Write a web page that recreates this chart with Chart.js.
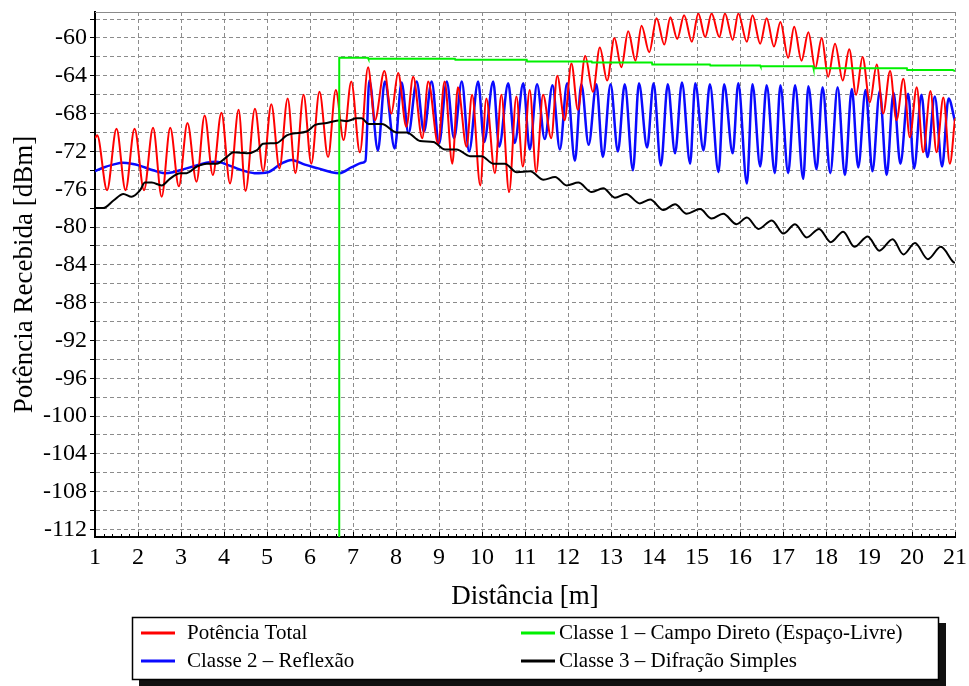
<!DOCTYPE html>
<html><head><meta charset="utf-8">
<script src="https://cdn.jsdelivr.net/npm/chart.js@4.4.0/dist/chart.umd.min.js"></script>
<style>html,body{margin:0;padding:0;background:#fff;}#wrap{width:969px;height:686px;position:relative;}</style>
</head><body><div id="wrap"><canvas id="c" width="969" height="686"></canvas></div>
<script>
// ---- tick values / labels ----
const xTickValues = [1,2,3,4,5,6,7,8,9,10,11,12,13,14,15,16,17,18,19,20,21];
const yGridValues = [-112,-110,-108,-106,-104,-102,-100,-98,-96,-94,-92,-90,-88,-86,-84,-82,-80,-78,-76,-74,-72,-70,-68,-66,-64,-62,-60,-58];
const yTickLabels = [-112,-108,-104,-100,-96,-92,-88,-84,-80,-76,-72,-68,-64,-60];

// ---- Potência Total (red) ----
const potenciaTotalX = [1.00,1.05,1.28,1.50,1.71,1.92,2.14,2.35,2.55,2.75,2.95,3.15,3.36,3.55,3.74,3.94,4.14,4.34,4.50,4.72,4.91,5.10,5.29,5.48,5.66,5.85,6.03,6.22,6.42,6.60,6.78,6.96,7.16,7.35,7.51,7.73,7.89,8.05,8.24,8.40,8.61,8.75,8.98,9.13,9.31,9.44,9.64,9.77,9.96,10.10,10.30,10.45,10.63,10.80,10.95,11.11,11.26,11.42,11.61,11.75,11.92,12.08,12.23,12.40,12.58,12.74,12.91,13.08,13.24,13.40,13.57,13.71,13.89,14.06,14.24,14.38,14.54,14.70,14.88,15.03,15.19,15.34,15.52,15.65,15.83,15.96,16.16,16.29,16.47,16.62,16.79,16.94,17.12,17.26,17.43,17.59,17.75,17.90,18.05,18.21,18.39,18.54,18.70,18.85,19.02,19.18,19.33,19.49,19.64,19.80,19.95,20.11,20.26,20.43,20.57,20.73,20.88,21.00];
const potenciaTotalY = [-70.6,-70.3,-76.1,-69.6,-76.1,-69.6,-76.1,-69.5,-76.8,-69.5,-75.7,-69.0,-75.2,-68.2,-74.5,-67.9,-75.4,-67.6,-76.2,-67.5,-74.1,-67.0,-73.8,-66.4,-74.3,-66.0,-73.3,-65.7,-72.6,-65.5,-70.8,-64.6,-72.1,-63.1,-68.7,-63.5,-68.0,-63.7,-69.4,-64.1,-70.6,-64.6,-71.2,-64.6,-73.3,-65.2,-71.5,-66.0,-75.6,-66.4,-74.3,-66.0,-76.3,-66.2,-73.6,-65.5,-74.2,-66.0,-70.6,-64.0,-68.7,-62.7,-67.6,-61.9,-65.7,-61.0,-64.5,-60.0,-63.1,-59.3,-62.4,-58.7,-61.5,-57.9,-60.7,-57.8,-60.1,-57.6,-60.4,-57.4,-59.9,-57.4,-59.9,-57.4,-60.2,-57.4,-60.4,-57.6,-60.6,-57.9,-60.9,-58.3,-62.1,-58.8,-62.4,-59.4,-63.2,-60.0,-64.1,-60.6,-64.5,-61.2,-66.0,-62.0,-66.8,-62.8,-68.0,-63.5,-68.7,-64.3,-70.5,-65.2,-72.1,-65.6,-72.1,-66.3,-73.3,-68.5];

// ---- Classe 1 - Campo Direto (green) ----
const classe1X = [6.68,6.68,7.35,7.36,9.37,9.38,11.04,11.05,12.55,12.56,13.95,13.96,15.30,15.31,16.47,16.48,17.70,17.71,19.88,19.89,20.95,21.00];
const classe1Y = [-115,-62.1,-62.1,-62.2,-62.2,-62.3,-62.3,-62.5,-62.5,-62.6,-62.6,-62.8,-62.8,-62.9,-62.9,-63.0,-63.0,-63.2,-63.2,-63.4,-63.4,-63.5];

// ---- Classe 2 - Reflexão (blue) ----
const classe2X = [1.00,1.20,1.42,1.65,1.85,2.04,2.35,2.62,2.81,3.05,3.28,3.59,3.82,4.13,4.36,4.71,5.02,5.33,5.57,5.88,6.19,6.50,6.69,6.96,7.22,7.29,7.38,7.58,7.74,7.97,8.13,8.29,8.48,8.65,8.83,9.00,9.18,9.35,9.53,9.70,9.91,10.05,10.26,10.40,10.61,10.76,10.96,11.11,11.28,11.46,11.64,11.81,11.98,12.16,12.31,12.48,12.66,12.81,12.99,13.16,13.32,13.51,13.65,13.84,13.99,14.16,14.32,14.49,14.65,14.84,14.96,15.15,15.30,15.50,15.63,15.83,15.96,16.16,16.29,16.47,16.62,16.81,16.94,17.12,17.28,17.47,17.59,17.78,17.92,18.10,18.27,18.44,18.60,18.75,18.92,19.08,19.25,19.41,19.57,19.73,19.91,20.05,20.22,20.36,20.53,20.70,20.85,21.00];
const classe2Y = [-74.1,-73.7,-73.4,-73.2,-73.3,-73.5,-74.0,-74.3,-74.2,-73.9,-73.6,-73.2,-73.1,-73.5,-73.9,-74.3,-74.2,-73.3,-72.9,-73.4,-73.8,-74.2,-74.3,-73.7,-73.2,-73.0,-64.5,-71.9,-64.6,-71.7,-64.7,-70.1,-64.6,-69.9,-64.6,-71.2,-64.6,-70.6,-64.6,-72.0,-64.6,-71.0,-64.6,-71.5,-64.8,-71.1,-64.8,-71.8,-64.9,-70.7,-65.0,-71.8,-64.8,-73.0,-64.9,-71.3,-64.9,-72.6,-64.9,-72.0,-64.9,-74.0,-64.8,-71.6,-64.8,-73.5,-64.9,-72.2,-64.7,-73.3,-64.8,-71.9,-64.9,-74.2,-64.9,-72.2,-64.8,-75.4,-64.9,-73.6,-65.0,-74.3,-65.0,-74.3,-65.0,-74.9,-65.1,-73.9,-65.2,-74.3,-65.2,-74.5,-65.4,-73.7,-65.5,-74.1,-65.6,-74.5,-65.8,-73.3,-65.9,-73.8,-66.0,-72.6,-66.2,-73.6,-66.4,-68.8];

// ---- Classe 3 - Difração Simples (black) ----
const classe3X = [1.00,1.19,1.43,1.66,1.85,2.05,2.16,2.32,2.55,2.74,2.98,3.13,3.37,3.60,3.83,4.06,4.22,4.53,4.76,4.91,5.23,5.46,5.61,5.92,6.12,6.39,6.70,6.85,7.09,7.20,7.36,7.67,8.02,8.25,8.56,8.87,9.14,9.41,9.72,9.99,10.26,10.53,10.81,11.12,11.43,11.70,11.97,12.24,12.55,12.82,13.09,13.35,13.67,13.91,14.22,14.49,14.76,15.07,15.34,15.61,15.92,16.16,16.43,16.74,17.01,17.28,17.55,17.84,18.11,18.40,18.66,18.97,19.24,19.55,19.80,20.07,20.37,20.67,20.96,21.00];
const classe3Y = [-78.0,-78.0,-77.2,-76.5,-76.8,-76.1,-75.3,-75.3,-75.6,-74.9,-74.3,-74.3,-73.6,-73.3,-73.3,-72.6,-72.1,-72.2,-71.9,-71.2,-71.1,-70.3,-70.1,-69.9,-69.2,-69.0,-68.7,-68.8,-68.5,-68.5,-69.1,-69.1,-70.0,-70.0,-70.9,-71.0,-71.8,-71.8,-72.5,-72.5,-73.3,-73.3,-74.2,-74.1,-75.0,-74.7,-75.6,-75.3,-76.3,-75.9,-76.9,-76.5,-77.5,-77.1,-78.2,-77.6,-78.6,-78.1,-79.1,-78.6,-79.7,-79.0,-80.2,-79.3,-80.7,-79.7,-81.1,-80.2,-81.6,-80.5,-82.1,-81.0,-82.5,-81.3,-82.9,-81.7,-83.4,-82.1,-83.7,-83.8];

const seriesLabels = ['Potência Total','Classe 1 \u2013 Campo Direto (Espaço-Livre)','Classe 2 \u2013 Reflexão','Classe 3 \u2013 Difração Simples'];
const seriesColors = ['#ff0000','#00f000','#0a0aff','#000000'];

const zip = (xs, ys) => xs.map((x, i) => ({x: x, y: ys[i]}));
const SERIF = "'Liberation Serif','Times New Roman',serif";

const framePlugin = {
  id: 'frame',
  beforeDraw(chart) {
    const c = chart.ctx;
    c.save(); c.fillStyle = '#fff'; c.fillRect(0, 0, chart.width, chart.height); c.restore();
  },
  afterDatasetsDraw(chart) {
    const c = chart.ctx, a = chart.chartArea, xs = chart.scales.x;
    c.save();
    c.strokeStyle = '#8a8a8a'; c.lineWidth = 1;
    c.beginPath(); c.moveTo(a.left, a.top + 0.5); c.lineTo(a.right, a.top + 0.5); c.stroke();
    c.strokeStyle = '#000'; c.lineWidth = 1;
    c.beginPath();
    for (let k = 0; k <= 100; k++) {
      const v = 1 + k * 0.2;
      const px = Math.round(xs.getPixelForValue(v)) + 0.5;
      const len = (k % 5 === 0) ? 5 : 3;
      c.moveTo(px, a.bottom); c.lineTo(px, a.bottom - len);
    }
    c.stroke();
    c.restore();
  },
  afterDraw(chart) {
    const c = chart.ctx;
    c.save();
    c.fillStyle = '#111';
    c.fillRect(139, 623, 807, 63);
    c.fillStyle = '#fff';
    c.fillRect(132, 617, 807, 63);
    c.strokeStyle = '#000'; c.lineWidth = 1.5;
    c.strokeRect(132.5, 617.5, 806, 62);
    const pos = [[141, 633, 187], [521, 633, 559], [141, 661, 187], [521, 661, 559]];
    c.font = '21px ' + SERIF;
    c.textBaseline = 'middle';
    c.textAlign = 'left';
    chart.data.datasets.forEach((ds, i) => {
      const p = pos[i];
      c.strokeStyle = ds.borderColor; c.lineWidth = 3;
      c.beginPath(); c.moveTo(p[0], p[1]); c.lineTo(p[0] + 34, p[1]); c.stroke();
      c.fillStyle = '#000';
      c.fillText(ds.label, p[2], p[1]);
    });
    c.restore();
  }
};

new Chart(document.getElementById('c'), {
  type: 'line',
  data: {
    datasets: [
      {label: seriesLabels[0], data: zip(potenciaTotalX, potenciaTotalY), borderColor: seriesColors[0], borderWidth: 2, cubicInterpolationMode: 'monotone', order: 2},
      {label: seriesLabels[1], data: zip(classe1X, classe1Y), borderColor: seriesColors[1], borderWidth: 2, tension: 0, order: 0},
      {label: seriesLabels[2], data: zip(classe2X, classe2Y), borderColor: seriesColors[2], borderWidth: 2.5, cubicInterpolationMode: 'monotone', order: 3},
      {label: seriesLabels[3], data: zip(classe3X, classe3Y), borderColor: seriesColors[3], borderWidth: 2, cubicInterpolationMode: 'monotone', order: 1}
    ]
  },
  options: {
    responsive: false,
    animation: false,
    devicePixelRatio: 1,
    layout: {padding: {top: 12, right: 14, bottom: 0, left: 0}},
    elements: {point: {radius: 0, hoverRadius: 0}, line: {fill: false}},
    plugins: {legend: {display: false}, tooltip: {enabled: false}},
    scales: {
      x: {
        type: 'linear', min: 1, max: 21,
        afterBuildTicks: s => { s.ticks = xTickValues.map(v => ({value: v})); },
        afterFit: s => { s.height = 149; s.paddingLeft = 0; s.paddingRight = 0; },
        ticks: {color: '#000', font: {family: SERIF, size: 24}, padding: 6, maxRotation: 0, autoSkip: false, callback: v => String(v)},
        grid: {color: '#8c8c8c', lineWidth: 1, drawTicks: false},
        border: {color: '#000', width: 2, dash: [4, 3]},
        title: {display: true, text: 'Distância [m]', color: '#000', font: {family: SERIF, size: 27}, padding: {top: 0, bottom: 73}}
      },
      y: {
        type: 'linear', min: -112.8, max: -57.25,
        afterBuildTicks: s => { s.ticks = yGridValues.map(v => ({value: v})); },
        afterFit: s => { s.width = 95; s.paddingTop = 0; s.paddingBottom = 0; },
        ticks: {color: '#000', font: {family: SERIF, size: 24}, padding: 3, autoSkip: false, callback: v => yTickLabels.includes(v) ? String(v) : ''},
        grid: {color: '#8c8c8c', lineWidth: 1, drawTicks: true, tickLength: 5, tickColor: '#000'},
        border: {color: '#000', width: 2, dash: [4, 3]},
        title: {display: true, text: 'Potência Recebida [dBm]', color: '#000', font: {family: SERIF, size: 27}, padding: {top: 9, bottom: 0}}
      }
    }
  },
  plugins: [framePlugin]
});
</script></body></html>
